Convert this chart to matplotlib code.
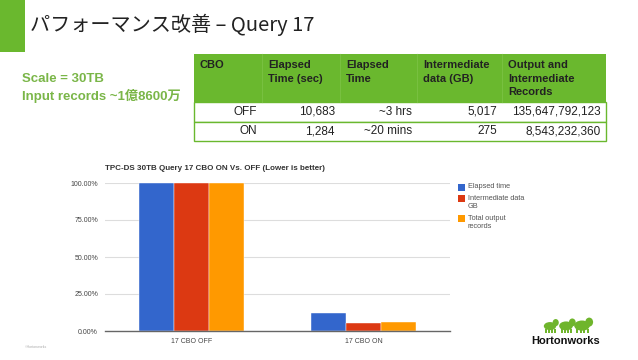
import matplotlib
matplotlib.use("Agg")
import matplotlib.pyplot as plt
from matplotlib.patches import Rectangle, Ellipse
import numpy as np

plt.rcParams['font.family'] = ['Liberation Sans', 'Noto Sans CJK JP', 'DejaVu Sans']

# ---- data ----
categories = ["17 CBO OFF", "17 CBO ON"]
series_names = ["Elapsed time", "Intermediate data\nGB", "Total output\nrecords"]
series_colors = ["#3366cc", "#dc3912", "#ff9900"]
elapsed_pct = [1.0, 0.120]
intermediate_pct = [1.0, 0.055]
output_pct = [1.0, 0.063]
y_ticks = [0.0, 0.25, 0.50, 0.75, 1.0]

table_header = ["CBO", "Elapsed\nTime (sec)", "Elapsed\nTime", "Intermediate\ndata (GB)",
                "Output and\nIntermediate\nRecords"]
table_rows = [
    ["OFF", "10,683", "~3 hrs", "5,017", "135,647,792,123"],
    ["ON", "1,284", "~20 mins", "275", "8,543,232,360"],
]
col_edges = [194, 262, 340, 417, 502, 606]

GREEN = "#6ab82e"
W, H = 638, 360

fig = plt.figure(figsize=(W / 100, H / 100), dpi=100)

# overlay in pixel coords (y down)
bg = fig.add_axes([0, 0, 1, 1])
bg.set_xlim(0, W)
bg.set_ylim(H, 0)
bg.axis("off")

# green marker + title
bg.add_patch(Rectangle((0, 0), 25, 52, color=GREEN, lw=0))
bg.text(30, 25, "パフォーマンス改善 – Query 17", fontsize=14.5, va="center", ha="left",
        color="#222222", family=["Noto Sans CJK JP", "DejaVu Sans"])

# scale text
bg.text(22, 88, "Scale = 30TB\nInput records ~1億8600万", fontsize=9.5, fontweight="bold",
        color="#7ab648", va="center", ha="left", linespacing=1.3)

# table
head_top, head_bot = 54, 102
row_bounds = [(102, 122), (122, 141)]
bg.add_patch(Rectangle((col_edges[0], head_top), col_edges[-1] - col_edges[0],
                       head_bot - head_top, color=GREEN, lw=0))
for i, label in enumerate(table_header):
    bg.text(col_edges[i] + 6, head_top + 6, label, fontsize=8, fontweight="bold",
            color="#222222", va="top", ha="left", linespacing=1.45)
for i in range(1, len(col_edges) - 1):
    bg.plot([col_edges[i], col_edges[i]], [head_top, head_bot], color="#78c040", lw=0.8)
for (top, bot), row in zip(row_bounds, table_rows):
    bg.add_patch(Rectangle((col_edges[0], top), col_edges[-1] - col_edges[0], bot - top,
                           facecolor="white", edgecolor=GREEN, lw=1))
    for i, val in enumerate(row):
        bg.text(col_edges[i + 1] - 5, (top + bot) / 2, val, fontsize=8.5, color="#222222",
                va="center", ha="right")

# chart title
bg.text(105, 168, "TPC-DS 30TB Query 17 CBO ON Vs. OFF (Lower is better)", fontsize=5.8,
        fontweight="bold", color="#333333", va="center", ha="left")

# chart axes
left, right, top, bottom = 105, 450, 183, 331
ax = fig.add_axes([left / W, 1 - bottom / H, (right - left) / W, (bottom - top) / H])
x = np.arange(len(categories))
bw = 0.203
for k, vals in enumerate([elapsed_pct, intermediate_pct, output_pct]):
    ax.bar(x + (k - 1) * bw, vals, width=bw, color=series_colors[k], zorder=3,
           edgecolor="white", linewidth=0.3)
ax.set_xlim(-0.5, 1.5)
ax.set_ylim(0, 1.0)
ax.set_yticks(y_ticks)
ax.set_yticklabels([f"{v * 100:.2f}%" for v in y_ticks])
ax.set_xticks(x)
ax.set_xticklabels(categories)
ax.tick_params(length=0, labelsize=5, colors="#444444")
ax.tick_params(axis="y", pad=5)
ax.tick_params(axis="x", pad=5)
ax.grid(axis="y", color="#dddddd", lw=0.8, zorder=0)
ax.set_axisbelow(True)
for s in ["top", "right", "left"]:
    ax.spines[s].set_visible(False)
ax.spines["bottom"].set_color("#666666")
ax.spines["bottom"].set_linewidth(1)
ax.spines["bottom"].set_zorder(4)
ax.patch.set_alpha(0)

# legend
leg_y = [187, 198, 218]
for name, color, y in zip(series_names, series_colors, leg_y):
    bg.add_patch(Rectangle((458, y - 3.5), 7, 7, color=color, lw=0))
    bg.text(468, y - 3.5, name, fontsize=5.3, color="#555555", va="top", ha="left",
            linespacing=1.3)

# logo
for cx, s in [(550, 0.95), (566, 1.05), (582, 1.2)]:
    bg.add_patch(Ellipse((cx, 328 - 2 * s), 13 * s, 8.5 * s, color="#6fb52c", lw=0))
    bg.add_patch(Ellipse((cx + 6 * s, 324.5 - 2 * s), 6.5 * s, 7.5 * s, color="#6fb52c", lw=0))
    for dx in (-5, -2, 1, 4):
        bg.add_patch(Rectangle((cx + dx * s, 329), 1.8 * s, 4, color="#6fb52c", lw=0))
bg.text(566, 341, "Hortonworks", fontsize=8, fontweight="bold", color="#111111",
        va="center", ha="center")
bg.text(25, 347, "©Hortonworks", fontsize=2.5, color="#aaaaaa", va="center", ha="left")

fig.savefig("out.png", dpi=100)
